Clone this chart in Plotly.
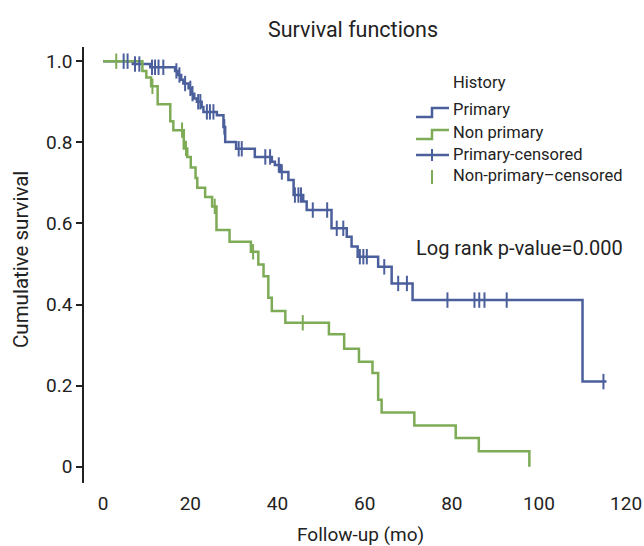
import plotly.graph_objects as go

# ---------------- data ----------------
primary_time = [0, 6.8, 10.8, 16.5, 17.1, 17.9, 18.4, 19.6, 20.3, 20.9, 21.5, 22.6, 23.0,
                26.1, 27.6, 28.0, 30.5, 34.8, 38.7, 39.4, 40.6, 42.5, 43.7, 45.9, 46.7,
                52.4, 55.9, 57.0, 58.4, 63.1, 66.2, 71.0, 110.0, 115.5]
primary_surv = [1.0, 0.993, 0.985, 0.976, 0.966, 0.954, 0.945, 0.933, 0.920, 0.908, 0.900,
                0.887, 0.875, 0.867, 0.838, 0.801, 0.784, 0.764, 0.752, 0.744, 0.727, 0.707,
                0.670, 0.654, 0.633, 0.588, 0.567, 0.543, 0.518, 0.493, 0.452, 0.411, 0.210,
                0.210]
primary_censored = [4.7, 5.6, 7.3, 8.3, 11.2, 11.9, 12.7, 13.8, 16.8, 17.5, 18.8, 20.0, 20.5,
                    21.8, 22.3, 23.8, 24.5, 25.3, 27.8, 31.1, 31.8, 37.2, 38.3, 40.3, 41.0,
                    44.0, 44.8, 45.4, 48.1, 51.4, 53.6, 55.1, 58.9, 59.7, 60.5, 64.5, 67.7,
                    69.7, 79.0, 85.2, 86.3, 87.5, 92.6, 114.8]

nonprimary_time = [0, 9.0, 9.9, 11.0, 12.5, 15.4, 16.1, 18.5, 19.3, 20.1, 21.2, 21.6, 23.4,
                   25.0, 26.0, 29.0, 33.9, 35.6, 36.8, 37.9, 38.7, 41.8, 51.8, 55.3, 58.7,
                   61.8, 63.1, 63.9, 71.4, 80.9, 86.2, 97.8]
nonprimary_surv = [1.0, 0.976, 0.960, 0.938, 0.894, 0.852, 0.830, 0.785, 0.764, 0.738, 0.712,
                   0.688, 0.665, 0.642, 0.584, 0.555, 0.530, 0.499, 0.470, 0.417, 0.384,
                   0.355, 0.327, 0.291, 0.259, 0.231, 0.165, 0.134, 0.102, 0.071, 0.038, 0.0]
nonprimary_censored = [3.0, 11.3, 18.1, 19.0, 25.6, 34.4, 45.8]

x_ticks = [0, 20, 40, 60, 80, 100, 120]
y_ticks = [0, 0.2, 0.4, 0.6, 0.8, 1.0]
y_ticklabels = ["0", "0.2", "0.4", "0.6", "0.8", "1.0"]

BLUE = "#4b5f9c"
GREEN = "#7dab56"
FONT = "Roboto, Liberation Sans, sans-serif"
TXT = "#222"


def surv_at(times, survs, t):
    s = survs[0]
    for ti, si in zip(times, survs):
        if ti <= t:
            s = si
    return s


fig = go.Figure()
fig.add_trace(go.Scatter(x=primary_time, y=primary_surv, mode="lines", line_shape="hv",
                         line=dict(color=BLUE, width=2.5), name="Primary"))
fig.add_trace(go.Scatter(x=nonprimary_time, y=nonprimary_surv, mode="lines", line_shape="hv",
                         line=dict(color=GREEN, width=2.5), name="Non primary"))
fig.add_trace(go.Scatter(x=primary_censored,
                         y=[surv_at(primary_time, primary_surv, t) for t in primary_censored],
                         mode="markers",
                         marker=dict(symbol="line-ns", size=11, line=dict(color=BLUE, width=2)),
                         name="Primary-censored"))
fig.add_trace(go.Scatter(x=nonprimary_censored,
                         y=[surv_at(nonprimary_time, nonprimary_surv, t) for t in nonprimary_censored],
                         mode="markers",
                         marker=dict(symbol="line-ns", size=11, line=dict(color=GREEN, width=2)),
                         name="Non-primary\u2013censored"))

# plot-area pixel geometry
W, H = 644, 546
L, R, T, B = 84, 637, 47, 483


def px(x):
    return (x - L) / (R - L)


def py(y):
    return (B - y) / (B - T)


shapes = []
annotations = []
# custom legend
shapes.append(dict(type="path", xref="paper", yref="paper",
                   path=f"M {px(416)} {py(117)} L {px(432)} {py(117)} L {px(432)} {py(108)} L {px(449)} {py(108)}",
                   line=dict(color=BLUE, width=2.5)))
shapes.append(dict(type="path", xref="paper", yref="paper",
                   path=f"M {px(416)} {py(139)} L {px(432)} {py(139)} L {px(432)} {py(130)} L {px(449)} {py(130)}",
                   line=dict(color=GREEN, width=2.5)))
shapes.append(dict(type="line", xref="paper", yref="paper", x0=px(416), x1=px(449), y0=py(155), y1=py(155),
                   line=dict(color=BLUE, width=2.5)))
shapes.append(dict(type="line", xref="paper", yref="paper", x0=px(432), x1=px(432), y0=py(149), y1=py(161),
                   line=dict(color=BLUE, width=2)))
shapes.append(dict(type="line", xref="paper", yref="paper", x0=px(432), x1=px(432), y0=py(170), y1=py(184),
                   line=dict(color=GREEN, width=2)))

legend_rows = [("History", 82), ("Primary", 110), ("Non primary", 132), ("Primary-censored", 154),
               ("Non-primary\u2013censored", 176)]
for txt, yy in legend_rows:
    annotations.append(dict(text=txt, xref="paper", yref="paper", x=px(451), y=py(yy),
                            xanchor="left", yanchor="middle", showarrow=False,
                            font=dict(family=FONT, size=16.5, color=TXT)))
annotations.append(dict(text="Log rank p-value=0.000", xref="paper", yref="paper", x=px(414), y=py(248),
                        xanchor="left", yanchor="middle", showarrow=False,
                        font=dict(family=FONT, size=20, color=TXT)))
# axis titles
annotations.append(dict(text="Follow-up (mo)", xref="paper", yref="paper", x=px(360), y=py(534),
                        xanchor="center", yanchor="middle", showarrow=False,
                        font=dict(family=FONT, size=19, color=TXT)))
annotations.append(dict(text="Cumulative survival", xref="paper", yref="paper", x=px(21), y=py(260),
                        xanchor="center", yanchor="middle", showarrow=False, textangle=-90,
                        font=dict(family=FONT, size=20.5, color=TXT)))

fig.update_layout(
    width=W, height=H,
    margin=dict(l=L, r=W - R, t=T, b=H - B, autoexpand=False),
    paper_bgcolor="white", plot_bgcolor="white",
    showlegend=False,
    font=dict(family=FONT, size=18, color=TXT),
    title=dict(text="Survival functions", x=353 / W, xanchor="center", y=1 - 29 / H, yanchor="middle",
               font=dict(family=FONT, size=21.5, color=TXT)),
    shapes=shapes, annotations=annotations,
    xaxis=dict(range=[-4.4, 122.5], tickvals=x_ticks, showgrid=False, zeroline=False,
               showline=False, ticks="", tickfont=dict(size=19), automargin=False,
               ticklabelstandoff=7),
    yaxis=dict(range=[-0.04, 1.035], tickvals=y_ticks, ticktext=y_ticklabels, showgrid=False,
               zeroline=False, showline=True, linecolor=TXT, linewidth=1.5,
               ticks="outside", ticklen=6, tickcolor=TXT, tickwidth=1.5, tickfont=dict(size=19),
               automargin=False),
)

fig.write_html("out.html", config={"displayModeBar": False},
               post_script="document.body.style.margin='0';document.body.style.padding='0';")
